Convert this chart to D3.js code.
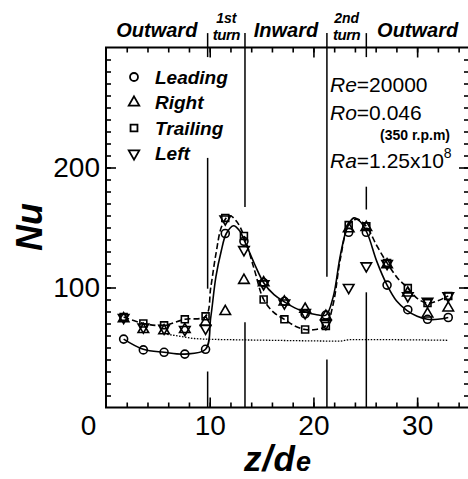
<!DOCTYPE html>
<html><head><meta charset="utf-8">
<script src="https://cdn.jsdelivr.net/npm/d3@7"></script>
<style>body{margin:0;background:#fff}svg{display:block}</style>
</head><body>
<svg id="chart" width="468" height="479"></svg>
<script>
// Measuring stations along the two-pass duct, z/de
const stations = [1.7, 3.6, 5.6, 7.6, 9.6, 11.5, 13.3, 15.2, 17.2, 19.2, 21.2, 23.4, 25.1, 27.1, 29.1, 31.0, 33.0];
// Nusselt number on each wall
const leading  = [57, 48, 46, 44.5, 48.5, 145, 138.5, 104, 88.5, 78, 77, 146, 146, 102, 81.5, 73.5, 75];
const right    = [74, 65, 64, 65, 71, 80, 106, 104, 88, 82, 76, 149, 150, 119, 95.5, 78, 83];
const trailing = [75.5, 70, 68.5, 73.5, 76, 158, 143, 90, 73.5, 65, 68, 152, 151, 120.5, 99.5, 87, 93];
const left     = [75, 67, 66, 65, 66, 157, 131.5, 103, 87, 79, 70, 100, 118, 120, 93, 88.5, 93];
// Hand-faired curves: leading (solid) and trailing (dashed)
const leadFitZ  = [1.7, 3.6, 5.6, 7.6, 9.6, 10.1, 10.6, 11.1, 11.6, 12.3, 12.9, 13.4, 14.3, 15.2, 16.2, 17.2, 18.2, 19.2, 20.2, 21.2, 21.9, 22.6, 23.3, 23.9, 24.5, 25.2, 26.1, 27.1, 28.0, 29.0, 30.0, 31.0, 32.0, 33.0];
const leadFitNu = [57, 48.5, 46, 44.5, 48.5, 75, 109, 130, 145, 151.5, 147, 138, 120, 104, 94, 88, 83, 79.5, 77.5, 77, 92, 127, 151, 158, 155, 145, 122, 102, 89, 81, 76, 73.5, 73.5, 75];
const trailFitZ  = [1.7, 3.6, 5.6, 7.6, 9.6, 10.1, 10.6, 11.2, 11.9, 12.6, 13.3, 14.3, 15.2, 16.2, 17.2, 18.2, 19.2, 20.2, 21.2, 21.9, 22.6, 23.4, 24.2, 25.1, 26.1, 27.1, 28.1, 29.1, 30.0, 31.0, 32.0, 33.0];
const trailFitNu = [75.5, 70, 68.5, 73.5, 76, 100, 128, 152, 160, 155, 143, 115, 90, 79, 73.5, 68, 65, 65, 68, 86, 124, 152, 157, 151, 135, 120.5, 108, 99.5, 91, 87, 89, 93];
// Fully developed smooth-duct reference
const refZ  = [5.9, 7, 8.5, 9.5, 12, 16, 20, 22.5, 23.5, 27, 33];
const refNu = [61, 59.5, 57.5, 57, 56.5, 56, 55.5, 55.3, 56.5, 56.5, 56];
// Turn boundaries and the visible pieces of each boundary line (Nu extents)
const turnBounds = [9.8, 13.4, 21.3, 25.1];
const turnSegments = [
  [[312, 292], [208, 99], [30, 0]],
  [[312, 167], [71, 0]],
  [[312, 109], [40, 0]],
  [[312, 292], [184, 165], [96, 0]]
];
const sectionNames = ["Outward", "Inward", "Outward"];
const turnNames = [["1st", "turn"], ["2nd", "turn"]];
const xTickLabels = [0, 10, 20, 30];
const yTickLabels = [100, 200];
const legendLabels = ["Leading", "Right", "Trailing", "Left"];

const svg = d3.select("#chart");
const x = d3.scaleLinear().domain([0, 35]).range([106, 469]);
const y = d3.scaleLinear().domain([0, 300]).range([407.5, 47.5]);
const FONT = "'Liberation Sans', Arial, sans-serif";

// Frame
svg.append("rect").attr("x", x(0)).attr("y", y(300))
  .attr("width", x(35) - x(0)).attr("height", y(0) - y(300))
  .attr("fill", "none").attr("stroke", "#000").attr("stroke-width", 2);

function ticks(axis, pos, values, len) {
  const g = svg.append("g").attr("transform", pos)
    .call(axis.tickValues(values).tickSize(-len).tickFormat(""));
  g.select(".domain").remove();
  g.selectAll("line").attr("stroke-width", 1.6);
}
const xMinor = d3.range(2, 35, 2), xMajor = [10, 20, 30];
const yMinor = d3.range(10, 300, 10), yMajor = [100, 200];
ticks(d3.axisBottom(x), `translate(0,${y(0)})`, xMinor, 5);
ticks(d3.axisBottom(x), `translate(0,${y(0)})`, xMajor, 10);
ticks(d3.axisTop(x), `translate(0,${y(300)})`, xMinor, 5);
ticks(d3.axisTop(x), `translate(0,${y(300)})`, xMajor, 10);
ticks(d3.axisLeft(y), `translate(${x(0)},0)`, yMinor, 5);
ticks(d3.axisLeft(y), `translate(${x(0)},0)`, yMajor, 10);
ticks(d3.axisRight(y), `translate(${x(35)},0)`, yMinor, 5);
ticks(d3.axisRight(y), `translate(${x(35)},0)`, yMajor, 10);

// Tick labels
const xl = svg.append("g").attr("transform", `translate(0,${y(0)})`)
  .call(d3.axisBottom(x).tickValues(xTickLabels).tickSize(0).tickPadding(8));
xl.select(".domain").remove();
xl.selectAll("text").attr("font-size", 28).attr("font-family", FONT).attr("fill", "#000")
  .attr("dx", d => d === 0 ? -18 : 0);
const yl = svg.append("g").attr("transform", `translate(${x(0)},0)`)
  .call(d3.axisLeft(y).tickValues(yTickLabels).tickSize(0).tickPadding(6));
yl.select(".domain").remove();
yl.selectAll("text").attr("font-size", 28).attr("font-family", FONT).attr("fill", "#000");

// Axis titles
svg.append("text").attr("transform", "translate(42,227) rotate(-90)")
  .attr("text-anchor", "middle").attr("font-family", FONT)
  .attr("font-size", 36).attr("font-weight", "bold").attr("font-style", "italic").text("Nu");
const xt = svg.append("text").attr("x", 244).attr("y", 471)
  .attr("font-family", FONT).attr("font-weight", "bold").attr("font-style", "italic")
  .attr("letter-spacing", 1);
xt.append("tspan").attr("font-size", 35).text("z");
xt.append("tspan").attr("font-size", 36).text("/");
xt.append("tspan").attr("font-size", 35).text("d");
xt.append("tspan").attr("font-size", 27).text("e");

// Turn boundary lines
turnBounds.forEach((z, i) => {
  turnSegments[i].forEach(s => {
    svg.append("line").attr("x1", x(z)).attr("x2", x(z))
      .attr("y1", y(s[0])).attr("y2", y(s[1]))
      .attr("stroke", "#000").attr("stroke-width", 1.5);
  });
});

// Section headings
const bounds = [0, ...turnBounds, 35];
[[0, 1], [2, 3], [4, 5]].forEach((p, i) => {
  svg.append("text").attr("x", (x(bounds[p[0]]) + x(bounds[p[1]])) / 2).attr("y", 37)
    .attr("text-anchor", "middle").attr("font-family", FONT).attr("font-size", 20)
    .attr("font-weight", "bold").attr("font-style", "italic").text(sectionNames[i]);
});
[[1, 2], [3, 4]].forEach((p, i) => {
  const cx = (x(bounds[p[0]]) + x(bounds[p[1]])) / 2;
  svg.append("text").attr("x", cx).attr("y", 23).attr("text-anchor", "middle")
    .attr("font-family", FONT).attr("font-size", 14).attr("font-weight", "bold")
    .attr("font-style", "italic").text(turnNames[i][0]);
  svg.append("text").attr("x", cx).attr("y", 40).attr("text-anchor", "middle")
    .attr("font-family", FONT).attr("font-size", 15).attr("font-weight", "bold")
    .attr("font-style", "italic").attr("letter-spacing", -0.5).text(turnNames[i][1]);
});

// Reference line
svg.append("path").datum(refZ.map((z, i) => [z, refNu[i]]))
  .attr("d", d3.line().x(d => x(d[0])).y(d => y(d[1])).curve(d3.curveMonotoneX))
  .attr("fill", "none").attr("stroke", "#000").attr("stroke-width", 1.3)
  .attr("stroke-dasharray", "1.5,1.5");

// Faired curves for leading and trailing walls
const curveLine = d3.line().x(d => x(d[0])).y(d => y(d[1])).curve(d3.curveCatmullRom.alpha(0.5));
svg.append("path").datum(leadFitZ.map((z, i) => [z, leadFitNu[i]]))
  .attr("d", curveLine).attr("fill", "none").attr("stroke", "#000").attr("stroke-width", 1.6);
svg.append("path").datum(trailFitZ.map((z, i) => [z, trailFitNu[i]]))
  .attr("d", curveLine).attr("fill", "none").attr("stroke", "#000").attr("stroke-width", 1.6)
  .attr("stroke-dasharray", "6,3");

// Markers
const series = [
  {vals: leading, sym: d3.symbolCircle, rot: 0},
  {vals: right, sym: d3.symbolTriangle, rot: 0},
  {vals: trailing, sym: d3.symbolSquare, rot: 0},
  {vals: left, sym: d3.symbolTriangle, rot: 180}
];
series.forEach(s => {
  const path = d3.symbol().type(s.sym).size(s.sym === d3.symbolCircle ? 50 : 48)();
  svg.append("g").selectAll("path").data(s.vals).join("path")
    .attr("d", path)
    .attr("transform", (v, i) => `translate(${x(stations[i])},${y(v)}) rotate(${s.rot})`)
    .attr("fill", "none").attr("stroke", "#000").attr("stroke-width", 1.6);
});

// Legend
legendLabels.forEach((lab, i) => {
  const cy = 77 + i * 25.5, s = series[i];
  svg.append("path").attr("d", d3.symbol().type(s.sym).size(s.sym === d3.symbolCircle ? 50 : 48)())
    .attr("transform", `translate(134,${cy}) rotate(${s.rot})`)
    .attr("fill", "none").attr("stroke", "#000").attr("stroke-width", 1.8);
  svg.append("text").attr("x", 155).attr("y", cy + 6.5).attr("font-family", FONT)
    .attr("font-size", 19).attr("font-weight", "bold").attr("font-style", "italic").text(lab);
});

// Flow conditions
function cond(yb, sym, rest) {
  const t = svg.append("text").attr("x", 330).attr("y", yb).attr("font-family", FONT).attr("font-size", 21);
  t.append("tspan").attr("font-style", "italic").text(sym);
  t.append("tspan").text(rest);
  return t;
}
cond(91.5, "Re", "=20000");
cond(120, "Ro", "=0.046");
svg.append("text").attr("x", 450).attr("y", 140).attr("text-anchor", "end").attr("font-family", FONT)
  .attr("font-size", 14).attr("font-weight", "bold").text("(350 r.p.m)");
const ra = cond(168, "Ra", "=1.25x10");
ra.append("tspan").attr("font-size", 14).attr("dy", -10).text("8");
</script>
</body></html>
